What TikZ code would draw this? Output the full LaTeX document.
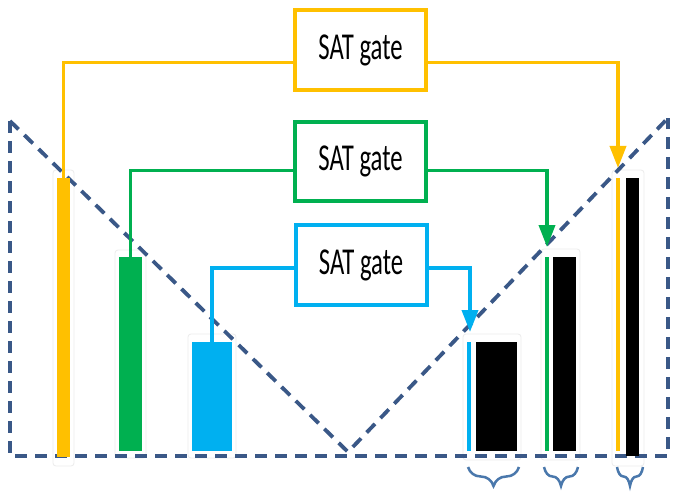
\documentclass[tikz,border=0pt]{standalone}
\usepackage{fontspec}
\setmainfont{Carlito}
\usetikzlibrary{arrows.meta,decorations.pathreplacing}
\definecolor{cyel}{HTML}{FFC000}
\definecolor{cgrn}{HTML}{00B050}
\definecolor{cblu}{HTML}{00B0F0}
\definecolor{cdash}{RGB}{58,88,135}
\definecolor{cbrace}{RGB}{74,120,172}
\definecolor{cfaint}{RGB}{236,236,236}
\tikzset{
  gatebox/.style={draw, line width=4pt, fill=white, minimum width=131pt, minimum height=80pt, inner sep=0pt,
    font=\fontsize{38}{40}\selectfont},
  barbox/.style={draw=none, inner sep=0pt, outer sep=0pt},
  conn/.style={line width=3.8pt},
  arr/.style={conn, -{Triangle[width=16pt,length=22pt]}, shorten >=10pt},
  vdash/.style={draw=cdash, line width=3.8pt, dash pattern=on 12pt off 8pt},
  bracestyle/.style={draw=cbrace, line width=2.5pt, decorate, decoration={brace, mirror, amplitude=19pt}},
  faintbox/.style={draw=cfaint, line width=0.8pt, rounded corners=3pt}
}
\newcommand{\satlabel}{\scalebox{0.65}[1]{SAT gate}}
\begin{document}
\begin{tikzpicture}[x=1pt,y=-1pt]
\useasboundingbox (0,0) rectangle (680,500);
\fill[white] (0,0) rectangle (680,500);

% faint outlines around bars
\draw[faintbox] (53,170) rectangle (74,466);
\draw[faintbox] (115,250) rectangle (146,458);
\draw[faintbox] (188,334) rectangle (236,458);
\draw[faintbox] (463,334) rectangle (521,460);
\draw[faintbox] (541,249) rectangle (580,460);
\draw[faintbox] (612,170) rectangle (644,466);

% dashed frame and V
\draw[vdash] (10,121) -- (10,456) -- (668,456) -- (668,118);
\draw[vdash] (10,121) -- (348,452) -- (668,118);

% bars left
\node[barbox, fill=cyel, minimum width=13pt, minimum height=279pt] (ybar) at (63.5,317.5) {};
\node[barbox, fill=cgrn, minimum width=23pt, minimum height=194pt] (gbar) at (130.5,354) {};
\node[barbox, fill=cblu, minimum width=40pt, minimum height=109pt] (bbar) at (212,396.5) {};

% bars right
\node[barbox, fill=cblu, minimum width=4pt, minimum height=109pt] (bthin) at (469,396.5) {};
\node[barbox, fill=black, minimum width=41pt, minimum height=109pt] (kbar1) at (496.5,396.5) {};
\node[barbox, fill=cgrn, minimum width=4pt, minimum height=194pt] (gthin) at (547,354) {};
\node[barbox, fill=black, minimum width=23pt, minimum height=194pt] (kbar2) at (564.5,354) {};
\node[barbox, fill=cyel, minimum width=4pt, minimum height=273pt] (ythin) at (618,314.5) {};
\node[barbox, fill=black, minimum width=13pt, minimum height=278pt] (kbar3) at (632.5,317) {};

% gate boxes
\node[gatebox, draw=cyel] (ygate) at (360.5,50.5) {\satlabel};
\node[gatebox, draw=cgrn, minimum height=79pt] (ggate) at (360.5,161.5) {\satlabel};
\node[gatebox, draw=cblu] (bgate) at (361,265) {\satlabel};

% connectors
\draw[conn, cyel] (ygate.west) ++(0,12) -| (ybar.north);
\draw[arr, cyel] (ygate.east) ++(0,12) -| (ythin.north);
\draw[conn, cgrn] (ggate.west) ++(0,9) -| (gbar.north);
\draw[arr, cgrn] (ggate.east) ++(0,9) -| (gthin.north);
\draw[conn, cblu] (bgate.west) ++(0,3) -| (bbar.north);
\draw[arr, cblu] (bgate.east) ++(0,3) -| ([xshift=1pt]bthin.north);

% braces
\coordinate (b1l) at (468,467);
\coordinate (b1r) at (519,467);
\coordinate (b2l) at (544,467);
\coordinate (b2r) at (578,467);
\coordinate (b3l) at (617,467);
\coordinate (b3r) at (643,467);
\draw[bracestyle] (b1l) -- (b1r);
\draw[bracestyle] (b2l) -- (b2r);
\draw[bracestyle] (b3l) -- (b3r);
\end{tikzpicture}
\end{document}
